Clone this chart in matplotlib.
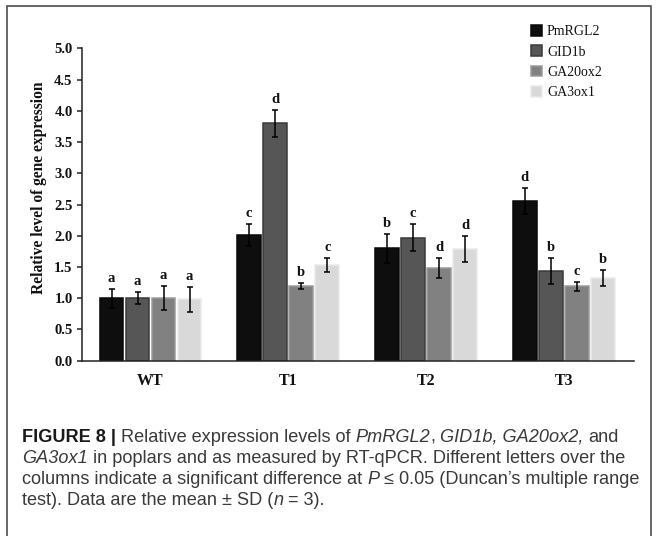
import matplotlib
matplotlib.use('Agg')
import matplotlib.pyplot as plt
import numpy as np
from matplotlib.patches import Rectangle

# ---------------- data ----------------
groups = ['WT', 'T1', 'T2', 'T3']
genes = ['PmRGL2', 'GID1b', 'GA20ox2', 'GA3ox1']

pmrgl2 = [1.00, 2.01, 1.80, 2.55]
pmrgl2_sd = [0.15, 0.18, 0.23, 0.21]
gid1b = [1.00, 3.80, 1.97, 1.43]
gid1b_sd = [0.10, 0.22, 0.22, 0.21]
ga20ox2 = [1.00, 1.19, 1.48, 1.19]
ga20ox2_sd = [0.19, 0.05, 0.16, 0.07]
ga3ox1 = [0.98, 1.53, 1.79, 1.32]
ga3ox1_sd = [0.20, 0.11, 0.21, 0.13]

letters_pmrgl2 = ['a', 'c', 'b', 'd']
letters_gid1b = ['a', 'd', 'c', 'b']
letters_ga20ox2 = ['a', 'b', 'd', 'c']
letters_ga3ox1 = ['a', 'c', 'd', 'b']

yticks = [0.0, 0.5, 1.0, 1.5, 2.0, 2.5, 3.0, 3.5, 4.0, 4.5, 5.0]
ylabel = 'Relative level of gene expression'

caption_lines = [
    [('FIGURE 8 |', 'bold'), (' Relative expression levels of ', 'normal'), ('PmRGL2', 'italic'),
     (', ', 'normal'), ('GID1b, GA20ox2,', 'italic'), (' and', 'normal')],
    [('GA3ox1', 'italic'), (' in poplars and as measured by RT-qPCR. Different letters over the', 'normal')],
    [('columns indicate a significant difference at ', 'normal'), ('P', 'italic'),
     (' \u2264 0.05 (Duncan\u2019s multiple range', 'normal')],
    [('test). Data are the mean \u00b1 SD (', 'normal'), ('n', 'italic'), (' = 3).', 'normal')],
]

# ---------------- styles ----------------
series = [pmrgl2, gid1b, ga20ox2, ga3ox1]
series_sd = [pmrgl2_sd, gid1b_sd, ga20ox2_sd, ga3ox1_sd]
series_letters = [letters_pmrgl2, letters_gid1b, letters_ga20ox2, letters_ga3ox1]
faces = ['#0e0e0e', '#565656', '#818181', '#d9d9d9']
edges = ['#080808', '#3a3a3a', '#9c9c9c', '#eaeaea']

SERIF = 'Liberation Serif'
SANS = 'Liberation Sans'

W, H = 657, 536
fig = plt.figure(figsize=(W / 100, H / 100), dpi=100)
fig.patch.set_facecolor('white')

ax_l, ax_r, ax_t, ax_b = 81.7, 634, 48.3, 360.7
ax = fig.add_axes([ax_l / W, 1 - ax_b / H, (ax_r - ax_l) / W, (ax_b - ax_t) / H])

x = np.arange(len(groups))
slot = 0.189
bw = 0.172
handles = []
for i, (vals, sd, fc, ec, lets) in enumerate(zip(series, series_sd, faces, edges, series_letters)):
    xs = x + (i - 1.5) * slot
    bc = ax.bar(xs, vals, width=bw, color=fc, edgecolor=ec, linewidth=1.1,
                yerr=sd, error_kw=dict(ecolor='black', elinewidth=1.1, capsize=2.3, capthick=1.1),
                zorder=2)
    handles.append(bc)
    for xi, v, s, l in zip(xs, vals, sd, lets):
        ax.annotate(l, (xi, v + s), xytext=(0, 5), textcoords='offset points',
                    ha='center', va='baseline', fontfamily=SERIF, fontweight='bold',
                    fontsize=10.5, color='#111111')

ax.set_xlim(-0.5, 3.51)
ax.set_ylim(0, 5.0)
ax.set_yticks(yticks)
ax.set_yticklabels(['%.1f' % t for t in yticks])
ax.set_xticks(x)
ax.set_xticklabels(groups)

for sp in ['top', 'right']:
    ax.spines[sp].set_visible(False)
for sp in ['left', 'bottom']:
    ax.spines[sp].set_color('#222222')
    ax.spines[sp].set_linewidth(1.1)

ax.tick_params(axis='y', direction='out', length=3.4, width=1.1, color='#222222', pad=3.2)
ax.tick_params(axis='x', length=0, pad=8.5)
for lab in ax.get_yticklabels():
    lab.set_fontfamily(SERIF); lab.set_fontweight('bold'); lab.set_fontsize(10.5); lab.set_color('#111111')
for lab in ax.get_xticklabels():
    lab.set_fontfamily(SERIF); lab.set_fontweight('bold'); lab.set_fontsize(11.5); lab.set_color('#111111')

ax.set_ylabel(ylabel, fontfamily=SERIF, fontweight='bold', fontsize=11.2, color='#111111')
ax.yaxis.set_label_coords((47 - ax_l) / (ax_r - ax_l), (ax_b - 188) / (ax_b - ax_t))

leg = ax.legend(handles, genes, loc='upper left', bbox_to_anchor=(531 / W, 1 - 25 / H),
                bbox_transform=fig.transFigure, frameon=False,
                prop=dict(family=SERIF, size=10), handlelength=0.8, handleheight=0.8,
                handletextpad=0.35, labelspacing=0.52, borderpad=0, borderaxespad=0)
for t in leg.get_texts():
    t.set_color('#111111')

# ---------------- frame ----------------
fig.add_artist(Rectangle((7 / W, -0.05), (651 - 7) / W, 1.05 - 6 / H, transform=fig.transFigure,
                         fill=False, edgecolor='#4d4d4d', linewidth=1.2))

# ---------------- caption ----------------
renderer = fig.canvas.get_renderer()

def adv(s, style, size):
    weight = 'bold' if style == 'bold' else 'normal'
    fstyle = 'italic' if style == 'italic' else 'normal'
    t1 = fig.text(0, 0, '|' + s + '|', fontfamily=SANS, fontweight=weight, fontstyle=fstyle, fontsize=size)
    t2 = fig.text(0, 0, '||', fontfamily=SANS, fontweight=weight, fontstyle=fstyle, fontsize=size)
    w = t1.get_window_extent(renderer).width - t2.get_window_extent(renderer).width
    t1.remove(); t2.remove()
    return w

# fit size so that line 3 spans 22 -> 643 px
base = 10.0
w3 = sum(adv(s, st, base) for s, st in caption_lines[2])
csize = base * (643 - 22) / w3

baselines = [442, 463, 484, 505]
for segs, yb in zip(caption_lines, baselines):
    xp = 22.0
    for s, st in segs:
        lead = len(s) - len(s.lstrip(' '))
        core = s.strip(' ')
        xo = xp + (adv(' ' * lead, st, csize) if lead else 0)
        weight = 'bold' if st == 'bold' else 'normal'
        fstyle = 'italic' if st == 'italic' else 'normal'
        col = '#1a1a1a' if st == 'bold' else '#3a3a3a'
        fig.text(xo / W, 1 - yb / H, core, fontfamily=SANS, fontweight=weight, fontstyle=fstyle,
                 fontsize=csize, color=col, ha='left', va='baseline')
        xp += adv(s, st, csize)

fig.savefig('out.png', dpi=100, facecolor='white')
